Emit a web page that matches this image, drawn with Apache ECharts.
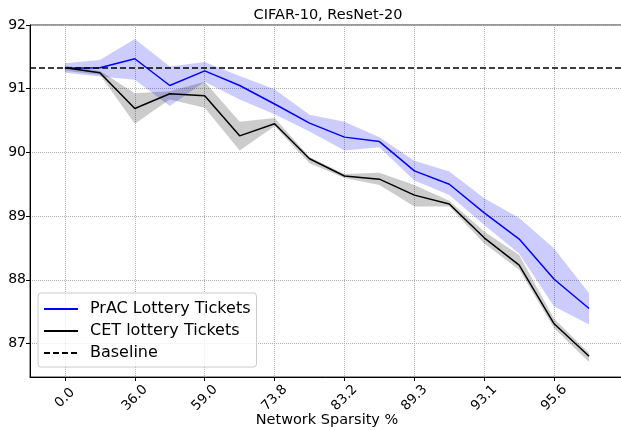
<!DOCTYPE html>
<html>
<head>
<meta charset="utf-8">
<script src="https://cdn.jsdelivr.net/npm/echarts@6/dist/echarts.min.js"></script>
<style>
  html, body { margin: 0; padding: 0; background: #fff; }
  #chart { width: 621px; height: 430px; }
</style>
</head>
<body>
<div id="chart"></div>
<script>
// network sparsity (%) per pruning round
let sparsity = ['0.0', '20.0', '36.0', '48.8', '59.0', '67.2', '73.8', '79.0', '83.2', '86.6', '89.3', '91.4', '93.1', '94.5', '95.6', '96.5'];
let tickIdx = [0, 2, 4, 6, 8, 10, 12, 14];
let yTicks = [87, 88, 89, 90, 91, 92];

// PrAC lottery tickets: mean and band
let pracMean = [91.32, 91.33, 91.47, 91.05, 91.28, 91.05, 90.76, 90.46, 90.24, 90.17, 89.71, 89.50, 89.05, 88.64, 88.01, 87.55];
let pracLow = [91.25, 91.19, 91.14, 90.73, 91.11, 90.83, 90.60, 90.33, 90.03, 90.08, 89.56, 89.33, 88.86, 88.41, 87.58, 87.30];
let pracHigh = [91.40, 91.45, 91.78, 91.35, 91.42, 91.20, 90.99, 90.59, 90.48, 90.24, 89.87, 89.70, 89.28, 88.97, 88.49, 87.79];

// CET lottery tickets: mean and band
let cetMean = [91.33, 91.25, 90.69, 90.92, 90.89, 90.26, 90.45, 89.90, 89.63, 89.58, 89.33, 89.19, 88.66, 88.23, 87.31, 86.80];
let cetLow = [91.28, 91.22, 90.45, 90.83, 90.70, 90.03, 90.41, 89.83, 89.60, 89.49, 89.15, 89.15, 88.57, 88.16, 87.24, 86.71];
let cetHigh = [91.36, 91.28, 90.93, 90.96, 91.11, 90.48, 90.54, 89.93, 89.66, 89.68, 89.49, 89.24, 88.76, 88.39, 87.39, 86.85];

let baseline = 91.33;

function pts(arr) {
  return arr.map(function (v, i) { return [i, v]; });
}

let font = 'DejaVu Sans';

/**
 * 置信区间带（fill_between）
 */
function band(name, lo, hi, color) {
  let data = lo.map(function (v, i) { return [i, v, hi[i]]; });
  return {
    name: name, type: 'custom', silent: true, z: 1,
    data: data,
    encode: {x: 0, y: [1, 2]},
    renderItem: function (params, api) {
      if (params.dataIndex !== 0) return null;
      let points = [];
      for (let i = 0; i < hi.length; i++) points.push(api.coord([i, hi[i]]));
      for (let i = lo.length - 1; i >= 0; i--) points.push(api.coord([i, lo[i]]));
      return {
        type: 'polygon',
        shape: {points: points},
        style: {fill: color}
      };
    }
  };
}

let series = [];
series.push(band('pracBand', pracLow, pracHigh, 'rgba(0,0,255,0.2)'));
series.push(band('cetBand', cetLow, cetHigh, 'rgba(0,0,0,0.2)'));
series.push({
  name: 'PrAC Lottery Tickets', type: 'line', data: pts(pracMean),
  symbol: 'none', lineStyle: {color: '#0000ff', width: 1.5}, itemStyle: {color: '#0000ff'}, z: 3
});
series.push({
  name: 'CET lottery Tickets', type: 'line', data: pts(cetMean),
  symbol: 'none', lineStyle: {color: '#000000', width: 1.5}, itemStyle: {color: '#000000'}, z: 3
});
series.push({
  name: 'Baseline', type: 'line', data: [],
  symbol: 'none', lineStyle: {color: '#000000', width: 1.5, type: [6, 3]}, itemStyle: {color: '#000000'},
  markLine: {
    silent: true, symbol: 'none', label: {show: false},
    lineStyle: {color: '#000000', width: 1.5, type: [6, 3]},
    data: [{yAxis: baseline}]
  }
});

let option = {
  animation: false,
  textStyle: {fontFamily: font},
  title: {
    text: 'CIFAR-10, ResNet-20',
    left: 323, top: 3, textAlign: 'center',
    textStyle: {fontFamily: font, fontSize: 14.5, fontWeight: 'normal', color: '#000'}
  },
  legend: {
    data: ['PrAC Lottery Tickets', 'CET lottery Tickets', 'Baseline'],
    orient: 'vertical', left: 38, top: 293,
    itemWidth: 34, itemHeight: 10, itemGap: 6,
    itemStyle: {opacity: 0},
    padding: [8, 6, 6, 5],
    backgroundColor: 'rgba(255,255,255,0.8)',
    borderColor: '#cccccc', borderWidth: 1, borderRadius: 3,
    textStyle: {fontFamily: font, fontSize: 16, color: '#000', padding: [0, 0, 0, 7]}
  },
  grid: {
    left: 30, top: 25, right: -3, bottom: 53,
    outerBoundsMode: 'none',
    show: true, borderColor: '#333', borderWidth: 1, backgroundColor: '#fff'
  },
  xAxis: {
    type: 'value', min: -1, max: 16,
    name: 'Network Sparsity %', nameLocation: 'middle', nameGap: 36, nameMoveOverlap: false,
    nameTextStyle: {fontFamily: font, fontSize: 14.5, color: '#000'},
    axisLine: {show: true, onZero: false, lineStyle: {color: '#000'}},
    axisTick: {show: true, length: 4, customValues: tickIdx, lineStyle: {color: '#000'}},
    axisLabel: {
      customValues: tickIdx, rotate: 45, margin: 21, align: 'center', verticalAlign: 'middle',
      fontFamily: font, fontSize: 13.5, color: '#000',
      formatter: function (v) { return sparsity[Math.round(v)]; }
    },
    splitLine: {show: true, lineStyle: {color: '#b0b0b0', type: 'dotted', width: 1}}
  },
  yAxis: {
    type: 'value', min: 86.475, max: 92,
    axisLine: {show: true, onZero: false, lineStyle: {color: '#000'}},
    axisTick: {show: true, length: 4, customValues: yTicks, lineStyle: {color: '#000'}},
    axisLabel: {customValues: yTicks, margin: 4, fontFamily: font, fontSize: 14, color: '#000'},
    splitLine: {show: true, lineStyle: {color: '#b0b0b0', type: 'dotted', width: 1}}
  },
  series: series
};

let myChart = echarts.init(document.getElementById('chart'), null, {renderer: 'canvas'});
myChart.setOption(option);
</script>
</body>
</html>
